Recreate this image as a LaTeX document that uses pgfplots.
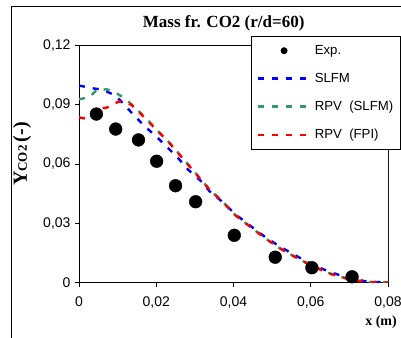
\documentclass[border=0pt]{standalone}
\usepackage{pgfplots}
\pgfplotsset{compat=1.18}
\usepackage{fontspec}
\setmainfont{Liberation Sans}
\newfontfamily\tnr{Liberation Serif}
\definecolor{sgreen}{RGB}{51,153,102}
\pgfplotsset{
  lineleg/.style={legend image code/.code={\draw[##1] (0pt,0pt) -- (53pt,0pt);}},
  markleg/.style={legend image code/.code={\path[draw=none,fill=none] (0pt,0pt) (53pt,0pt);
    \fill[black,draw=none] (26.5pt,0pt) circle (3.5pt);}},
}
\pgfplotstableread{
x y
0.0045 0.0853
0.0095 0.0777
0.0154 0.0722
0.0201 0.0614
0.0250 0.0490
0.0302 0.0409
0.0402 0.0239
0.0508 0.0128
0.0603 0.0075
0.0707 0.0029
}\expdata
\pgfplotstableread{
x y
0 0.0997
0.0037 0.0983
0.0063 0.0975
0.0085 0.0955
0.0106 0.0924
0.0136 0.0860
0.0167 0.0797
0.0205 0.0730
0.0231 0.0680
0.0257 0.0629
0.0283 0.0570
0.0313 0.0519
0.0339 0.0460
0.0374 0.0404
0.0404 0.0347
0.0443 0.0288
0.0482 0.0230
0.0520 0.0182
0.0565 0.0132
0.0610 0.0085
0.0654 0.0050
0.0700 0.0022
0.0745 0.0005
0.0800 0
}\slfm
\pgfplotstableread{
x y
0 0.0928
0.0028 0.0938
0.0037 0.0958
0.0046 0.0975
0.0072 0.0978
0.0098 0.0958
0.0124 0.0924
0.0149 0.0877
0.0167 0.0845
0.0205 0.0766
0.0231 0.0715
0.0257 0.0656
0.0283 0.0597
0.0309 0.0537
0.0339 0.0469
0.0374 0.0405
0.0404 0.0342
0.0443 0.0283
0.0482 0.0224
0.0520 0.0173
0.0565 0.0123
0.0610 0.0078
0.0654 0.0042
0.0700 0.0016
0.0745 0.0002
0.0800 0
}\rpvslfm
\pgfplotstableread{
x y
0 0.0836
0.0028 0.0826
0.0046 0.0857
0.0063 0.0882
0.0080 0.0890
0.0102 0.0916
0.0119 0.0916
0.0136 0.0899
0.0167 0.0840
0.0205 0.0764
0.0231 0.0713
0.0257 0.0654
0.0283 0.0595
0.0309 0.0536
0.0339 0.0468
0.0374 0.0405
0.0404 0.0342
0.0443 0.0283
0.0482 0.0224
0.0520 0.0173
0.0565 0.0123
0.0610 0.0078
0.0654 0.0042
0.0700 0.0016
0.0745 0.0002
0.0800 0
}\rpvfpi
\begin{document}
\begin{tikzpicture}[x=1pt,y=1pt]
\path[use as bounding box] (0,0) rectangle (401,337);
\draw[line width=1pt] (11,-5) -- (11,330) -- (410,330);
\begin{axis}[
  at={(79pt,54.5pt)}, anchor=south west, scale only axis,
  width=309pt, height=237pt,
  xmin=0, xmax=0.08, ymin=0, ymax=0.12,
  xtick={0,0.02,0.04,0.06,0.08}, xticklabels={0,{0,02},{0,04},{0,06},{0,08}},
  ytick={0,0.03,0.06,0.09,0.12}, yticklabels={0,{0,03},{0,06},{0,09},{0,12}},
  scaled ticks=false,
  tick pos=left, tick align=outside, major tick length=4pt,
  tick style={black, line width=0.8pt},
  axis line style={line width=1pt},
  tick label style={font=\fontsize{14}{16}\selectfont},
  xticklabel style={yshift=-7pt},
  yticklabel style={xshift=-1pt},
  legend style={at={(0.5566,1.04)}, anchor=north west, draw=black, line width=0.8pt,
    fill=white, font=\fontsize{13.2}{15}\selectfont, inner xsep=5pt, inner ysep=7pt,
    row sep=13.2pt, column sep=1pt},
  legend cell align=left,
]
\addplot[only marks, mark=*, mark size=6.4pt, black, markleg] table {\expdata};
\addlegendentry{Exp.}
\addplot[blue, line width=2.4pt, dash pattern=on 6pt off 8pt, lineleg] table {\slfm};
\addlegendentry{SLFM}
\addplot[sgreen, line width=2.4pt, dash pattern=on 6pt off 8pt, lineleg] table {\rpvslfm};
\addlegendentry{RPV~~(SLFM)}
\addplot[red, line width=2.4pt, dash pattern=on 6pt off 8pt, lineleg] table {\rpvfpi};
\addlegendentry{RPV~~(FPI)}
\draw[gray!70, line width=1pt] (rel axis cs:1,0) -- (rel axis cs:1,1);
\end{axis}
\node[font=\tnr\bfseries\fontsize{17}{20}\selectfont] at (223.7,314) {Mass fr. CO2 (r/d=60)};
\node[font=\tnr\bfseries\fontsize{14}{16}\selectfont] at (381,15) {x (m)};
\node[rotate=90, font=\tnr\bfseries] at (22,183) {\fontsize{20}{22}\selectfont Y\fontsize{13}{15}\selectfont CO2 \fontsize{20}{22}\selectfont(-)};
\end{tikzpicture}
\end{document}
